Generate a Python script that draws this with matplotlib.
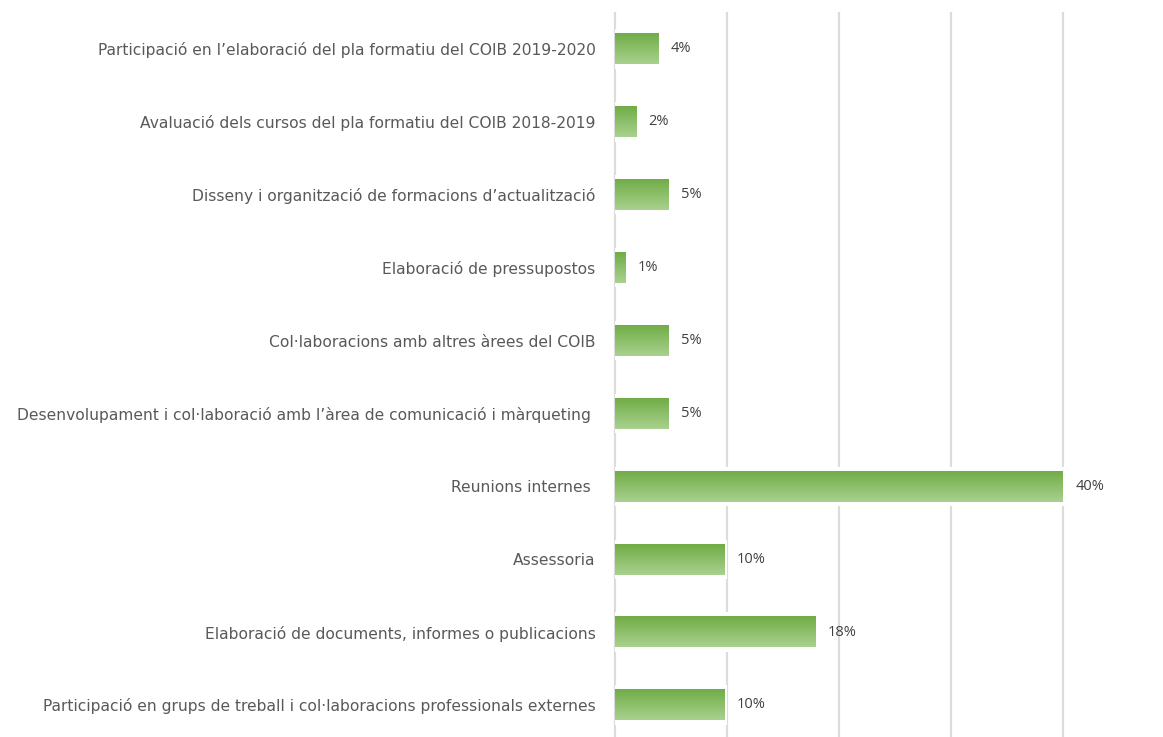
import numpy as np
import matplotlib.pyplot as plt
from matplotlib.colors import LinearSegmentedColormap

# ============================================================
# DATA
# ============================================================

categories = [
    "Participació en l’elaboració del pla formatiu del COIB 2019-2020",
    "Avaluació dels cursos del pla formatiu del COIB 2018-2019",
    "Disseny i organització de formacions d’actualització",
    "Elaboració de pressupostos",
    "Col·laboracions amb altres àrees del COIB",
    "Desenvolupament i col·laboració amb l’àrea de comunicació i màrqueting ",
    "Reunions internes ",
    "Assessoria",
    "Elaboració de documents, informes o publicacions",
    "Participació en grups de treball i col·laboracions professionals externes",
]
values = [3.9, 1.9, 4.8, 0.9, 4.8, 4.8, 40.0, 9.8, 17.9, 9.8]
value_labels = ["4%", "2%", "5%", "1%", "5%", "5%", "40%", "10%", "18%", "10%"]

# ============================================================
# FIGURE
# ============================================================

fig = plt.figure(figsize=(11.63, 7.37), dpi=100)
ax = fig.add_axes([0.5288, -0.006, 0.3852, 0.989])

n = len(categories)
ypos = np.arange(n)[::-1]
bar_h = 0.42

green = LinearSegmentedColormap.from_list("grn", ["#70AD47", "#A9D18E"])
grad = np.linspace(0, 1, 64).reshape(-1, 1)

for y, v, lab in zip(ypos, values, value_labels):
    # white band behind the bar that cuts the gridlines
    ax.add_patch(plt.Rectangle((0, y - bar_h / 2 - 0.06), v + 0.2, bar_h + 0.12,
                               facecolor="white", edgecolor="none", zorder=1,
                               clip_on=False))
    ax.imshow(grad, cmap=green, extent=(0, v, y - bar_h / 2, y + bar_h / 2),
              origin="upper", aspect="auto", zorder=2, interpolation="bilinear")
    ax.text(v + 1.1, y, lab, va="center", ha="left", fontsize=10.5,
            color="#404040", family="Open Sans")

ax.set_xlim(0, 40)
ax.set_ylim(-0.5, n - 0.5)
ax.set_xticks([0, 10, 20, 30, 40])
ax.set_xticklabels([])
ax.tick_params(axis="x", length=0)
ax.set_yticks(ypos)
ax.set_yticklabels(categories, fontsize=11.2, color="#595959", family="DejaVu Sans")
ax.tick_params(axis="y", length=0, pad=14)
ax.grid(axis="x", color="#DCDCDC", linewidth=1.6, zorder=0)
for gl in ax.get_xgridlines():
    gl.set_clip_on(False)
ax.set_axisbelow(True)
for s in ax.spines.values():
    s.set_visible(False)

fig.savefig("out.png", dpi=100)
